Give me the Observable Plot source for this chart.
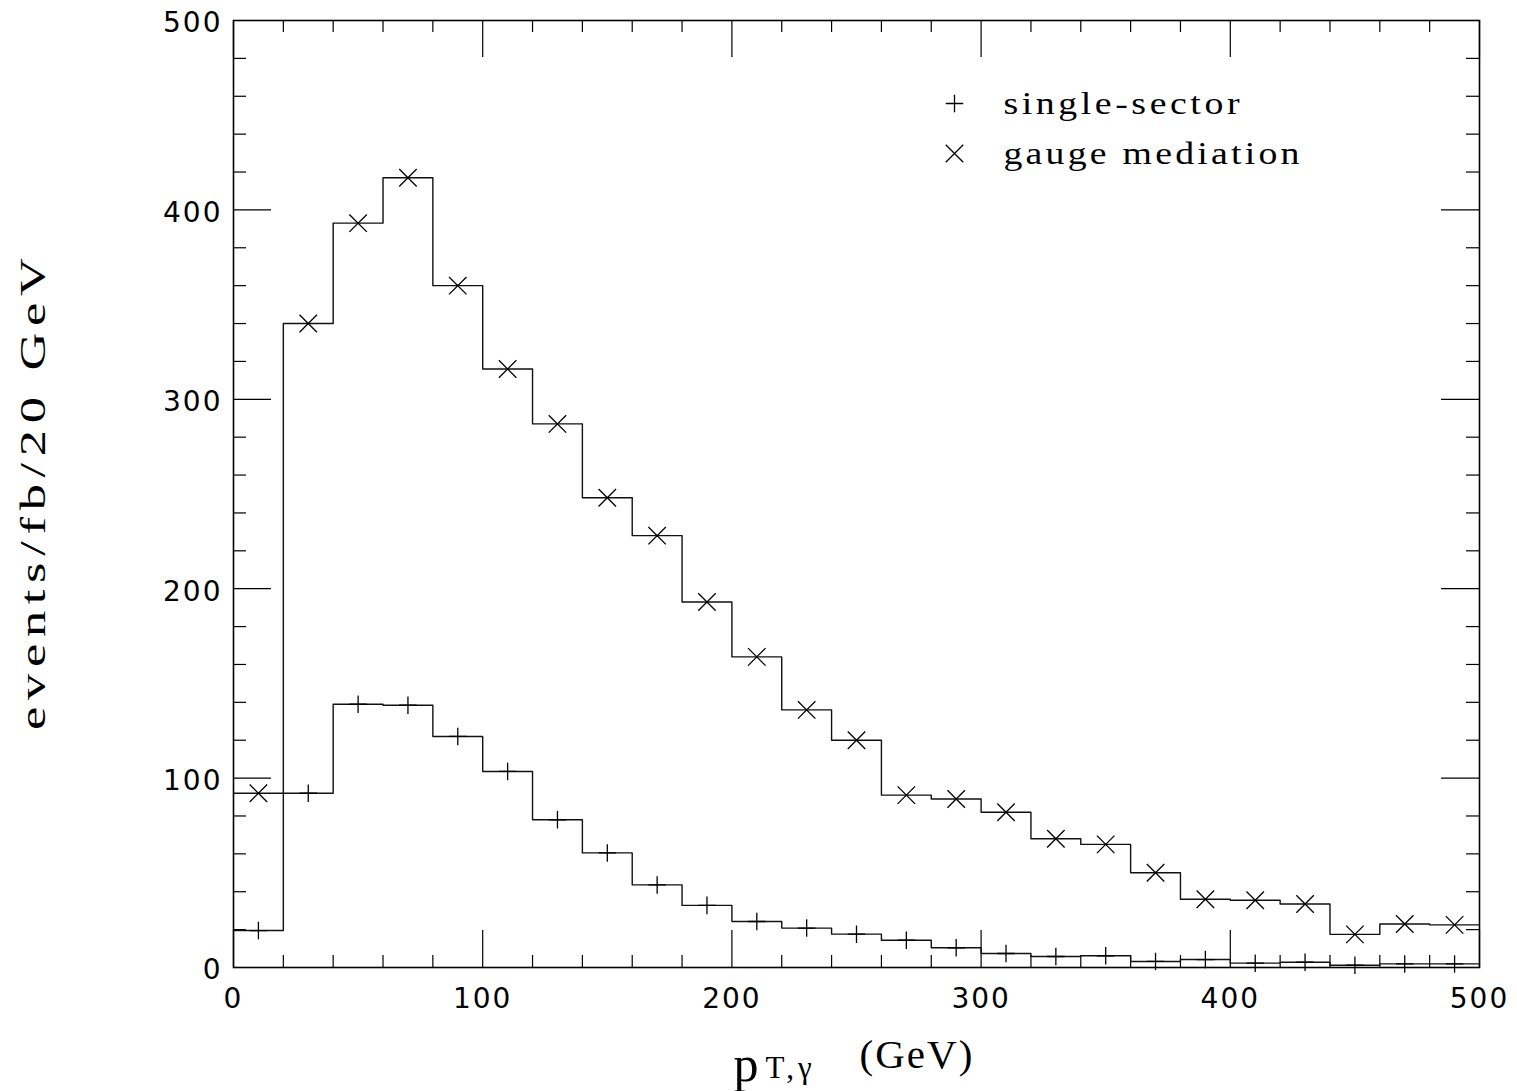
<!DOCTYPE html>
<html>
<head>
<meta charset="utf-8">
<script src="https://cdn.jsdelivr.net/npm/d3@7"></script>
<script src="https://cdn.jsdelivr.net/npm/@observablehq/plot@0.6"></script>
<style>
  body { margin: 0; background: #fff; }
  #chart svg { display: block; }
  g[aria-label="x-axis tick label"] text, g[aria-label="y-axis tick label"] text { letter-spacing: 2px; }
</style>
</head>
<body>
<div id="chart"></div>
<script>
// ---- data ----
const binEdges = [0, 20, 40, 60, 80, 100, 120, 140, 160, 180, 200, 220, 240, 260, 280, 300, 320, 340, 360, 380, 400, 420, 440, 460, 480, 500];
const singleSector = [19.5, 92, 139, 138.5, 122, 103.5, 78, 60.5, 43.6, 32.8, 24.3, 20.8, 17.6, 14.4, 10.4, 7.4, 5.8, 6.2, 3.2, 4.2, 2.3, 2.8, 1.2, 1.9, 1.9];
const gaugeMediation = [92, 340, 393, 417, 360, 316, 287, 248, 228, 193, 164, 136, 120, 91, 89, 82, 68, 65, 50, 36, 35.5, 33.5, 17.5, 23, 22.5];
const seriesNames = ["single-sector", "gauge mediation"];
const seriesSymbols = ["plus", "times"];
const xMajorTicks = [0, 100, 200, 300, 400, 500];
const xMinorTicks = [20, 40, 60, 80, 120, 140, 160, 180, 220, 240, 260, 280, 320, 340, 360, 380, 420, 440, 460, 480];
const yMajorTicks = [0, 100, 200, 300, 400, 500];
const yMinorTicks = [20, 40, 60, 80, 120, 140, 160, 180, 220, 240, 260, 280, 320, 340, 360, 380, 420, 440, 460, 480];
const xLabel = "pT,γ (GeV)";
const yLabel = "events/fb/20 GeV";

// ---- derived tables ----
function stepPoints(values) {
  const pts = values.map((v, i) => ({x: binEdges[i], y: v}));
  pts.push({x: binEdges[binEdges.length - 1], y: values[values.length - 1]});
  return pts;
}
function centers(values) {
  return values.map((v, i) => ({x: (binEdges[i] + binEdges[i + 1]) / 2, y: v}));
}

const W = 1517, H = 1091;
const mT = 20, mR = 38, mB = 124, mL = 233;
const fw = W - mL - mR, fh = H - mT - mB;
const serif = "'Liberation Serif', 'DejaVu Serif', serif";

const chart = Plot.plot({
  width: W, height: H,
  marginTop: mT, marginRight: mR, marginBottom: mB, marginLeft: mL,
  x: {domain: [0, 500]},
  y: {domain: [0, 500]},
  style: {fontFamily: "'DejaVu Sans', sans-serif", background: "white", color: "black"},
  marks: [
    // ticks inward on four sides
    Plot.tickX(xMajorTicks, {x: d => d, insetTop: fh - 37, stroke: "black", strokeWidth: 1.2}),
    Plot.tickX(xMajorTicks, {x: d => d, insetBottom: fh - 37, stroke: "black", strokeWidth: 1.2}),
    Plot.tickX(xMinorTicks, {x: d => d, insetTop: fh - 12, stroke: "black", strokeWidth: 1.2}),
    Plot.tickX(xMinorTicks, {x: d => d, insetBottom: fh - 12, stroke: "black", strokeWidth: 1.2}),
    Plot.tickY(yMajorTicks, {y: d => d, insetRight: fw - 38, stroke: "black", strokeWidth: 1.2}),
    Plot.tickY(yMajorTicks, {y: d => d, insetLeft: fw - 38, stroke: "black", strokeWidth: 1.2}),
    Plot.tickY(yMinorTicks, {y: d => d, insetRight: fw - 13, stroke: "black", strokeWidth: 1.2}),
    Plot.tickY(yMinorTicks, {y: d => d, insetLeft: fw - 13, stroke: "black", strokeWidth: 1.2}),
    Plot.frame({stroke: "black", strokeWidth: 1.6}),
    Plot.axisX(xMajorTicks, {tickSize: 0, tickPadding: 21, fontSize: 28, tickFormat: d => String(d), label: null}),
    Plot.axisY(yMajorTicks, {tickSize: 0, tickPadding: 11, fontSize: 28, tickFormat: d => String(d), label: null, dy: 3}),
    // histograms
    Plot.line(stepPoints(gaugeMediation), {x: "x", y: "y", curve: "step-after", stroke: "#111", strokeWidth: 1.4}),
    Plot.line(stepPoints(singleSector), {x: "x", y: "y", curve: "step-after", stroke: "#111", strokeWidth: 1.4}),
    Plot.dot(centers(singleSector), {x: "x", y: "y", symbol: seriesSymbols[0], r: 5.7, stroke: "black", strokeWidth: 1.3}),
    Plot.dot(centers(gaugeMediation), {x: "x", y: "y", symbol: seriesSymbols[1], r: 8, stroke: "black", strokeWidth: 1.3}),
    // legend
    Plot.dot([seriesNames[0]], {frameAnchor: "top-left", dx: 721, dy: 83, symbol: seriesSymbols[0], r: 5.7, stroke: "black", strokeWidth: 1.3}),
    Plot.dot([seriesNames[1]], {frameAnchor: "top-left", dx: 721, dy: 133, symbol: seriesSymbols[1], r: 8, stroke: "black", strokeWidth: 1.3}),
    Plot.text([seriesNames[0]], {text: d => d, frameAnchor: "top-left", dx: 770, dy: 93, textAnchor: "start", lineAnchor: "bottom", fontSize: 31, fontFamily: serif}),
    Plot.text([seriesNames[1]], {text: d => d, frameAnchor: "top-left", dx: 770, dy: 143, textAnchor: "start", lineAnchor: "bottom", fontSize: 31, fontFamily: serif}),
    // axis labels
    Plot.text([yLabel], {text: d => d, frameAnchor: "left", dx: -189, rotate: -90, textAnchor: "middle", lineAnchor: "bottom", fontSize: 35, fontFamily: serif}),
    Plot.text([xLabel], {text: d => d, frameAnchor: "bottom-left", dx: 500, dy: 113, textAnchor: "start", lineAnchor: "bottom", fontSize: 41, fontFamily: serif})
  ]
});

document.getElementById("chart").appendChild(chart);

// widen glyphs about the text anchor (the reference uses a wide plotter font)
function stretch(el, sx) {
  const x = +el.getAttribute("x") || 0, y = +el.getAttribute("y") || 0;
  const T = el.getAttribute("transform") || "";
  el.setAttribute("transform", `${T} translate(${x},${y}) scale(${sx},1) translate(${-x},${-y})`);
}

const svg = d3.select(chart);
svg.selectAll("text").each(function () {
  const t = d3.select(this);
  const s = this.textContent;
  if (s === yLabel) {
    stretch(this, 1.5);
    t.attr("textLength", 472 / 1.5).attr("lengthAdjust", "spacing");
  } else if (s === seriesNames[0]) {
    stretch(this, 1.22);
    t.attr("textLength", 236 / 1.22).attr("lengthAdjust", "spacing");
  } else if (s === seriesNames[1]) {
    stretch(this, 1.22);
    t.attr("textLength", 296 / 1.22).attr("lengthAdjust", "spacing");
  } else if (s === xLabel) {
    t.text(null);
    t.append("tspan").attr("font-size", 50).text("p");
    t.append("tspan").attr("font-size", 31).attr("dx", 7).attr("dy", -3).style("letter-spacing", "4px").text("T,γ");
    t.append("tspan").attr("font-size", 41).attr("dx", 44).attr("dy", -10).style("letter-spacing", "2px").text("(GeV)");
  }
});
</script>
</body>
</html>
